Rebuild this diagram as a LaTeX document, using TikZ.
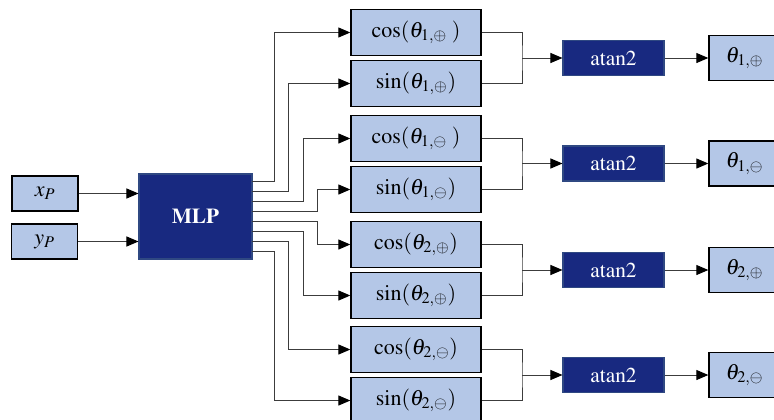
\documentclass[tikz,border=0pt]{standalone}
\usepackage[T1]{fontenc}
\usepackage{mathptmx}
\usepackage{amssymb}
\usetikzlibrary{arrows.meta}

\definecolor{boxfill}{RGB}{180,199,231}
\definecolor{mlpblue}{RGB}{24,41,128}
\definecolor{mlpedge}{RGB}{47,72,130}
\definecolor{wiregray}{RGB}{60,60,60}

\begin{document}
\begin{tikzpicture}[x=0.75pt,y=0.75pt,yscale=-1,xscale=1,
  lbox/.style={draw=black,line width=1pt,fill=boxfill,inner sep=0pt,font=\fontsize{16.5}{20}\selectfont},
  dbox/.style={draw=mlpedge,line width=0.8pt,fill=mlpblue,text=white,inner sep=0pt},
  inbox/.style={lbox,minimum width=49.5pt,minimum height=26.25pt},
  trig/.style={lbox,minimum width=97.5pt,minimum height=34.5pt},
  outbox/.style={lbox,minimum width=53.25pt,minimum height=33.75pt},
  atanbox/.style={dbox,minimum width=75.75pt,minimum height=26.25pt,font=\fontsize{16}{19}\selectfont},
  wire/.style={draw=wiregray,line width=0.75pt},
  arr/.style={wire,-{Triangle[length=9pt,width=7.5pt,color=black]}}]
\useasboundingbox (0,0) rectangle (774,419);

% inputs and network
\node [inbox] (xp) at (45,193.5) {$x_P$};
\node [inbox] (yp) at (44.5,241.5) {$y_P$};
\node [dbox,minimum width=84.75pt,minimum height=63.75pt,font=\fontsize{16}{19}\selectfont\bfseries] (mlp) at (195.5,216.5) {MLP};
\draw [arr] (xp) -- (xp -| mlp.west);
\draw [arr] (yp) -- (yp -| mlp.west);

% cos / sin heads
\node [trig] (c1p) at (416,32.5) {$\cos(\theta_{1,\oplus}\;)$};
\node [trig] (s1p) at (416,83.5) {$\sin(\theta_{1,\oplus})$};
\node [trig] (c1m) at (416,138.5) {$\cos(\theta_{1,\ominus}\;)$};
\node [trig] (s1m) at (416,189.5) {$\sin(\theta_{1,\ominus})$};
\node [trig] (c2p) at (416,244.5) {$\cos(\theta_{2,\oplus})$};
\node [trig] (s2p) at (416,295.5) {$\sin(\theta_{2,\oplus})$};
\node [trig] (c2m) at (416,349.5) {$\cos(\theta_{2,\ominus})$};
\node [trig] (s2m) at (416,400.5) {$\sin(\theta_{2,\ominus})$};

% MLP outputs and the columns where they turn
\foreach \i in {1,...,8}
  \coordinate (o\i) at (252,171.5+10*\i);
\coordinate (k1) at (274,0);
\coordinate (k2) at (288.5,0);
\coordinate (k3) at (303,0);
\coordinate (k4) at (317.5,0);

\foreach \i/\k/\t in {1/k1/c1p,2/k2/s1p,3/k3/c1m,4/k4/s1m,5/k4/c2p,6/k3/s2p,7/k2/c2m,8/k1/s2m}
  \draw [arr] (o\i) -| (\k |- \t.west) -- (\t.west);

% atan2 stages and results
\foreach \g/\c/\s/\n/\lab in {58/c1p/s1p/1p/{1,\oplus},163.5/c1m/s1m/1m/{1,\ominus},270/c2p/s2p/2p/{2,\oplus},375/c2m/s2m/2m/{2,\ominus}}{
  \coordinate (b\n) at (522,\g);
  \node [atanbox] (at\n) at (613.5,\g) {atan2};
  \node [outbox] (th\n) at (744.5,\g) {$\theta_{\lab}$};
  \draw [wire] (\c.east) -| (b\n) |- (\s.east);
  \draw [arr] (b\n) -- (at\n.west);
  \draw [arr] (at\n) -- (th\n.west);
}

\end{tikzpicture}
\end{document}
